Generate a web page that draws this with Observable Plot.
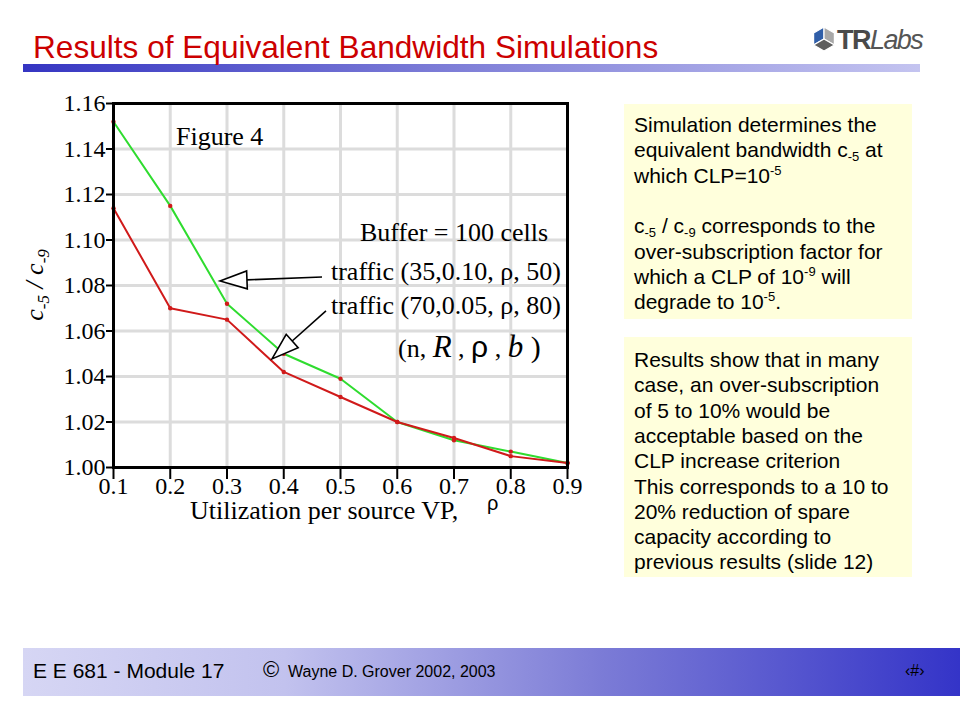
<!DOCTYPE html>
<html>
<head>
<meta charset="utf-8">
<script src="https://cdn.jsdelivr.net/npm/d3@7"></script>
<script src="https://cdn.jsdelivr.net/npm/@observablehq/plot@0.6"></script>
<style>
  html, body { margin: 0; padding: 0; }
  body { width: 960px; height: 720px; position: relative; background: #ffffff; overflow: hidden; }
  #page { position: absolute; left: 0; top: 0; }
  #chart { position: absolute; left: 0; top: 80px; }
  #topbar { position: absolute; left: 23px; top: 64px; width: 897px; height: 8px;
            background: linear-gradient(to right, #3535c2 0%, #7a7ad6 45%, #c4c4f0 100%); }
  #footbar { position: absolute; left: 23px; top: 648px; width: 937px; height: 48px;
             background: linear-gradient(to right, #d6d6f4 0%, #c2c2ee 28%, #7b7bd6 62%, #3434c8 100%); }
</style>
</head>
<body>
<div id="topbar"></div>
<div id="footbar"></div>
<svg id="page" width="960" height="720"></svg>
<div id="chart"></div>
<script>
// ---------------- data ----------------
const rho = [0.1, 0.2, 0.3, 0.4, 0.5, 0.6, 0.7, 0.8, 0.9];
const traffic35 = [1.152, 1.115, 1.072, 1.050, 1.039, 1.020, 1.012, 1.007, 1.002];
const traffic70 = [1.114, 1.070, 1.065, 1.042, 1.031, 1.020, 1.013, 1.005, 1.002];
const xTicks = [0.1, 0.2, 0.3, 0.4, 0.5, 0.6, 0.7, 0.8, 0.9];
const yTicks = [1.00, 1.02, 1.04, 1.06, 1.08, 1.10, 1.12, 1.14, 1.16];
const seriesLabels = ["traffic (35,0.10, ρ, 50)", "traffic (70,0.05, ρ, 80)"];
const seriesColors = ["#2fdc2f", "#d01a1a"];
const markerColor = "#d01a1a";

const title = "Results of Equivalent Bandwidth Simulations";
const xLabel = "Utilization per source VP,";
const xLabelSymbol = "ρ";
const figureNote = "Figure 4";
const bufferNote = "Buffer = 100 cells";

// annotation anchors, in data units (left edge, baseline)
const noteX = [0.211, 0.5352, 0.4841, 0.4841, 0.6022];
const noteY = [1.1415, 1.0993, 1.0822, 1.0673, 1.0484];
// arrows: tail -> tip, in data units
const arrowX1 = [0.4683, 0.4753];
const arrowY1 = [1.0835, 1.0686];
const arrowX2 = [0.2885, 0.3802];
const arrowY2 = [1.0818, 1.0475];

const box1Lines = [
  [["Simulation determines the", "n"]],
  [["equivalent bandwidth c", "n"], ["-5", "sub"], [" at", "n"]],
  [["which CLP=10", "n"], ["-5", "sup"]],
  [],
  [["c", "n"], ["-5", "sub"], [" / c", "n"], ["-9", "sub"], [" corresponds to the", "n"]],
  [["over-subscription factor for", "n"]],
  [["which a CLP of 10", "n"], ["-9", "sup"], [" will", "n"]],
  [["degrade to 10", "n"], ["-5", "sup"], [".", "n"]]
];
const box2Lines = [
  "Results show that in many",
  "case, an over-subscription",
  "of 5 to 10% would be",
  "acceptable based on the",
  "CLP increase criterion",
  "This corresponds to a 10 to",
  "20% reduction of spare",
  "capacity according to",
  "previous results (slide 12)"
];
const footerLeft = "E E 681 - Module 17";
const footerCopy = "Wayne D. Grover 2002, 2003";

// ---------------- page decoration ----------------
const page = d3.select("#page");
const sans = "'Liberation Sans', Arial, Helvetica, sans-serif";
const serif = "'Liberation Serif', 'Times New Roman', serif";

page.append("text").attr("x", 33).attr("y", 58)
  .attr("font-family", sans).attr("font-size", 31.6).attr("fill", "#cc0000").text(title);

// logo
(function logo() {
  const cx = 824, cy = 39, r = 12;
  const v = a => [cx + r * Math.cos(a * Math.PI / 180), cy + r * Math.sin(a * Math.PI / 180)];
  const c = [cx, cy];
  const pieces = [
    [[c, v(150), v(210), v(-90)], "#2f5ea8"],
    [[c, v(-90), v(-30), v(30)], "#a8a8a8"],
    [[c, v(30), v(90), v(150)], "#5e5e5e"]
  ];
  for (const [pts, col] of pieces) {
    page.append("polygon").attr("points", pts.map(p => p.join(",")).join(" ")).attr("fill", col)
      .attr("stroke", "#fff").attr("stroke-width", 1.2);
  }
  const t = page.append("text").attr("x", 837).attr("y", 49).attr("font-family", sans).attr("fill", "#4a4a4a");
  t.append("tspan").attr("font-size", 27).attr("font-weight", "bold").attr("letter-spacing", -1.5).text("TR");
  t.append("tspan").attr("font-size", 27).attr("font-style", "italic").attr("letter-spacing", -1.6).attr("fill", "#555").text("Labs");
})();

// text boxes
function drawBox(x, y, w, h, lines, firstBaseline, lh) {
  page.append("rect").attr("x", x).attr("y", y).attr("width", w).attr("height", h).attr("fill", "#ffffdc");
  lines.forEach((segs, i) => {
    if (typeof segs === "string") segs = [[segs, "n"]];
    if (!segs.length) return;
    const t = page.append("text").attr("x", x + 10).attr("y", firstBaseline + i * lh)
      .attr("font-family", sans).attr("font-size", 21).attr("fill", "#000");
    let shift = 0;
    for (const [s, kind] of segs) {
      const want = kind === "sub" ? 4 : kind === "sup" ? -8 : 0;
      t.append("tspan").attr("dy", want - shift).attr("font-size", kind === "n" ? 21 : 13).text(s);
      shift = want;
    }
  });
}
drawBox(624, 104, 288, 215, box1Lines, 132, 25.3);
drawBox(624, 337, 288, 240, box2Lines, 367, 25.3);

// footer
page.append("text").attr("x", 33).attr("y", 678).attr("font-family", sans).attr("font-size", 21).attr("fill", "#000").text(footerLeft);
page.append("text").attr("x", 263).attr("y", 677).attr("font-family", sans).attr("font-size", 22).attr("fill", "#000").text("©");
page.append("text").attr("x", 288).attr("y", 677).attr("font-family", sans).attr("font-size", 16).attr("fill", "#000").text(footerCopy);
page.append("text").attr("x", 905).attr("y", 676).attr("font-family", sans).attr("font-size", 16).attr("fill", "#000").text("‹#›");

// ---------------- chart ----------------
const rowsA = rho.map((r, i) => ({rho: r, v: traffic35[i]}));
const rowsB = rho.map((r, i) => ({rho: r, v: traffic70[i]}));

function annotations(index, scales, values, dims) {
  const {x, y} = scales;
  const g = d3.create("svg:g").attr("text-anchor", "start");
  // arrows
  for (let i = 0; i < arrowX1.length; i++) {
    const sx = x(arrowX1[i]), sy = y(arrowY1[i]), tx = x(arrowX2[i]), ty = y(arrowY2[i]);
    const L = Math.hypot(tx - sx, ty - sy), ux = (tx - sx) / L, uy = (ty - sy) / L;
    const bx = tx - 27 * ux, by = ty - 27 * uy, nx = -uy, ny = ux;
    g.append("line").attr("x1", sx).attr("y1", sy).attr("x2", bx).attr("y2", by)
      .attr("stroke", "#000").attr("stroke-width", 1.6);
    g.append("polygon")
      .attr("points", [[tx, ty], [bx + 9 * nx, by + 9 * ny], [bx - 9 * nx, by - 9 * ny]].map(p => p.join(",")).join(" "))
      .attr("fill", "#fff").attr("stroke", "#000").attr("stroke-width", 1.6);
  }
  // notes
  const simple = [figureNote, bufferNote, seriesLabels[0], seriesLabels[1]];
  simple.forEach((s, i) => {
    g.append("text").attr("x", x(noteX[i])).attr("y", y(noteY[i])).attr("text-anchor", "start")
      .attr("font-family", serif).attr("font-size", 26).attr("fill", "#000").text(s);
  });
  const t = g.append("text").attr("x", x(noteX[4])).attr("y", y(noteY[4])).attr("text-anchor", "start")
    .attr("font-family", serif).attr("font-size", 26).attr("fill", "#000");
  t.append("tspan").text("(n, ");
  t.append("tspan").attr("font-style", "italic").attr("font-size", 31).text("R");
  t.append("tspan").text(" , ");
  t.append("tspan").attr("font-family", sans).attr("font-size", 30).text("ρ");
  t.append("tspan").text(" , ");
  t.append("tspan").attr("font-style", "italic").attr("font-size", 31).text("b");
  t.append("tspan").attr("font-size", 30).text(" )");

  // axis labels
  const top = dims.marginTop, bottom = dims.height - dims.marginBottom;
  const yl = g.append("text")
    .attr("transform", `translate(${dims.marginLeft - 70},${(top + bottom) / 2}) rotate(-90)`)
    .attr("text-anchor", "middle").attr("font-family", serif).attr("font-style", "italic")
    .attr("font-size", 26).attr("fill", "#000");
  yl.append("tspan").text("c");
  yl.append("tspan").attr("font-size", 17).attr("dy", 6).text("-5");
  yl.append("tspan").attr("dy", -6).text(" / c");
  yl.append("tspan").attr("font-size", 17).attr("dy", 6).text("-9");

  g.append("text").attr("x", dims.marginLeft + 77).attr("y", bottom + 52).attr("text-anchor", "start")
    .attr("font-family", serif).attr("font-size", 26).attr("fill", "#000").text(xLabel);
  g.append("text").attr("x", dims.marginLeft + 374).attr("y", bottom + 43).attr("text-anchor", "start")
    .attr("font-family", sans).attr("font-size", 20).attr("fill", "#000").text(xLabelSymbol);
  return g.node();
}

const chart = Plot.plot({
  width: 600,
  height: 460,
  marginLeft: 113,
  marginRight: 33,
  marginTop: 23,
  marginBottom: 73,
  x: {domain: [0.1, 0.9]},
  y: {domain: [1.0, 1.16]},
  style: {fontFamily: "'Liberation Serif', 'Times New Roman', serif", fontSize: "24px", color: "#000", background: "transparent", overflow: "visible"},
  marks: [
    Plot.gridX(xTicks, {stroke: "#dcdcdc", strokeOpacity: 1, strokeWidth: 3}),
    Plot.gridY(yTicks, {stroke: "#dcdcdc", strokeOpacity: 1, strokeWidth: 3}),
    Plot.line(rowsA, {x: "rho", y: "v", stroke: seriesColors[0], strokeWidth: 2}),
    Plot.line(rowsB, {x: "rho", y: "v", stroke: seriesColors[1], strokeWidth: 2}),
    Plot.dot(rowsA, {x: "rho", y: "v", r: 2.2, fill: markerColor, stroke: null}),
    Plot.dot(rowsB, {x: "rho", y: "v", r: 2.2, fill: markerColor, stroke: null}),
    Plot.frame({stroke: "#000", strokeWidth: 3}),
    Plot.axisY(yTicks, {tickFormat: d3.format(".2f"), tickSize: 7, tickPadding: 1, strokeWidth: 2, fontSize: 24, label: null}),
    Plot.axisX(xTicks, {tickFormat: d3.format(".1f"), tickSize: 12, tickPadding: -3, strokeWidth: 2, fontSize: 24, label: null}),
    annotations
  ]
});
document.getElementById("chart").appendChild(chart);
</script>
</body>
</html>
